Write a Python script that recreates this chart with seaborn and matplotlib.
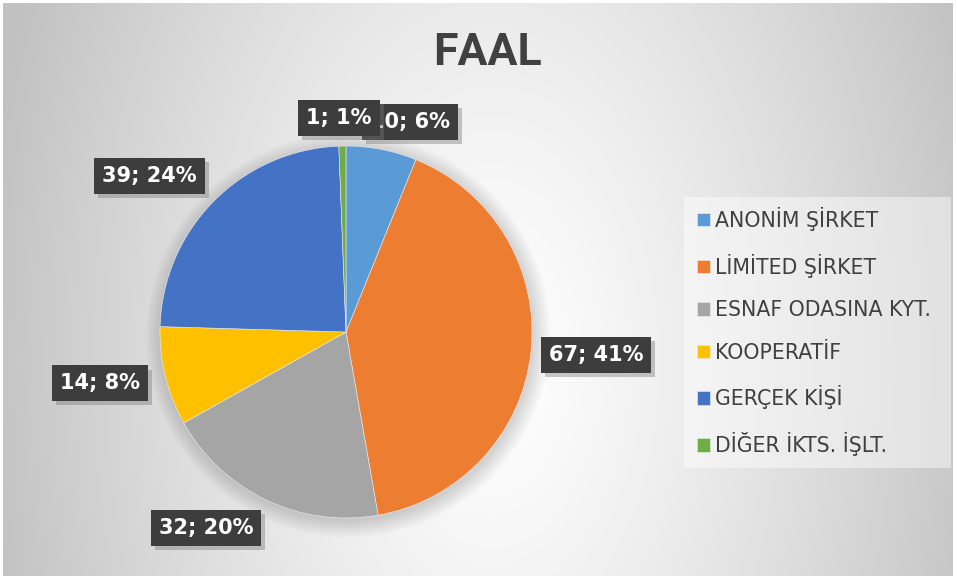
import numpy as np
import matplotlib
matplotlib.use("Agg")
import matplotlib.pyplot as plt
import seaborn as sns
from matplotlib.patches import Rectangle, Circle
from matplotlib import patheffects as pe

sns.set_theme(style="white")
plt.rcParams['font.family'] = ['DejaVu Sans']

# ---- data ----
title = "FAAL"
categories = ["ANONİM ŞİRKET", "LİMİTED ŞİRKET", "ESNAF ODASINA KYT.",
              "KOOPERATİF", "GERÇEK KİŞİ", "DİĞER İKTS. İŞLT."]
values = [10, 67, 32, 14, 39, 1]
percents = [6, 41, 20, 8, 24, 1]
colors = ["#5B9BD5", "#ED7D31", "#A5A5A5", "#FFC000", "#4472C4", "#70AD47"]

# label placement (layout only)
label_r = [1.18, 1.35, 1.295, 1.35, 1.35, 1.15]
label_dang = [-5.9, 0.8, -10.1, -2.0, 6.3, 0.8]

W, H = 957, 579
fig = plt.figure(figsize=(W / 100, H / 100), dpi=100)
fig.patch.set_facecolor("white")

# background gradient
bg = fig.add_axes([3 / W, 3 / H, 950 / W, 573 / H], zorder=0)
yy, xx = np.mgrid[0:573, 0:950]
cx, cy = 490, 360
d = np.sqrt(((xx - cx) / 480.0) ** 2 + ((yy - cy) / 800.0) ** 2)
v = 255 - 62 * np.clip(d / 1.08, 0, 1) ** 1.25
img = np.dstack([v, v, v]).astype(np.uint8)
bg.imshow(img, aspect="auto", interpolation="bilinear")
bg.set_axis_off()

# pie axes
pcx, pcy, pr = 346, 332, 186
ax = fig.add_axes([(pcx - pr) / W, (H - pcy - pr) / H, 2 * pr / W, 2 * pr / H], zorder=2)
ax.set_facecolor("none")
wedges, _ = ax.pie(values, colors=colors, startangle=90, counterclock=False,
                   radius=1.0, wedgeprops=dict(linewidth=0.4, edgecolor="#eeeeee"))
# soft shadow behind the pie
for k in range(8):
    ax.add_patch(Circle((0.012, -0.018), 1.0 + 0.012 * k, facecolor="#000000",
                        alpha=0.02, edgecolor="none", zorder=0, clip_on=False))
ax.set_xlim(-1, 1)
ax.set_ylim(-1, 1)
ax.set_aspect("equal")
ax.set_axis_off()

for i, w in enumerate(wedges):
    mid = 0.5 * (w.theta1 + w.theta2) + label_dang[i]
    r = label_r[i]
    x = r * np.cos(np.deg2rad(mid))
    y = r * np.sin(np.deg2rad(mid))
    t = ax.text(x, y, f"{values[i]}; {percents[i]}%", ha="center", va="center",
                color="white", fontsize=15, fontweight="bold",
                bbox=dict(boxstyle="square,pad=0.38", fc="#3d3d3d", ec="none"),
                zorder=5 + i, clip_on=False)
    t.get_bbox_patch().set_path_effects([
        pe.SimplePatchShadow(offset=(3, -3), shadow_rgbFace="#777777", alpha=0.4),
        pe.Normal()])

# title
fig.text(487 / W, 1 - 53 / H, title, ha="center", va="center", fontsize=32,
         fontweight="bold", color="#404040", family=["Roboto", "DejaVu Sans"])

# legend background
fig.patches.append(Rectangle((684 / W, 1 - 468 / H), 267 / W, 271 / H,
                             transform=fig.transFigure, facecolor="white",
                             alpha=0.45, edgecolor="none", zorder=1))
leg = fig.legend(wedges, categories, loc="upper left",
                 bbox_to_anchor=(697 / W, 1 - 207 / H), frameon=False,
                 fontsize=14.8, handlelength=0.63, handleheight=0.63,
                 handletextpad=0.25, labelspacing=1.1, borderpad=0,
                 borderaxespad=0)
for txt in leg.get_texts():
    txt.set_color("#404040")
leg.set_zorder(3)

fig.savefig("out.png", dpi=100)
